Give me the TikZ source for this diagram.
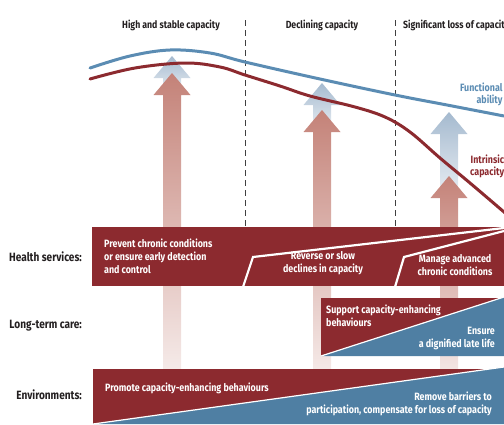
\documentclass[tikz,border=0pt]{standalone}
\usepackage{fontspec}
\newfontfamily\condfont{Fira Sans}[FakeStretch=0.84]
\definecolor{hsred}{RGB}{140,42,47}
\definecolor{ltblue}{RGB}{79,127,163}
\definecolor{curveblue}{RGB}{91,140,179}
\definecolor{arrowred}{RGB}{196,130,120}
\definecolor{arrowblue}{RGB}{165,186,207}
\definecolor{labelgray}{RGB}{35,31,32}
\tikzset{boxtext/.style={text=white,font=\condfont\bfseries\fontsize{10.6}{13}\selectfont,inner sep=0pt},
 headtext/.style={text=labelgray,font=\condfont\bfseries\fontsize{10.4}{12}\selectfont,inner sep=0pt},
 rowlabel/.style={text=labelgray,font=\condfont\bfseries\fontsize{12}{14}\selectfont,inner sep=0pt,anchor=east},
 curve/.style={line width=3pt,line cap=round},
 divider/.style={line width=0.7pt,dash pattern=on 6pt off 4pt,black!75},
 split/.style={white,line width=2.2pt}}

\begin{document}
\begin{tikzpicture}[x=1pt,y=-1pt]
 \useasboundingbox (0,0) rectangle (504,424);
 \clip (0,0) rectangle (504,424);
 % stages
 \node[headtext] (stage1) at (171,25) {High and stable capacity};
 \node[headtext] (stage2) at (322,25) {Declining capacity};
 \node[headtext,anchor=west] (stage3) at (403,25) {Significant loss of capacity};
 \foreach \x in {245,395}
  \draw[divider] (\x,20) -- (\x,226);
 % capacity arrows
 \foreach \x/\bt/\rt in {172/56/73,322/83/110,449/112/176}{
  \shade[top color=arrowblue,bottom color=arrowblue!25] (\x,\bt) -- ++(18.5,22) -- ++(-9.5,0)
   -- (\x+9,\rt+20) -- (\x-9,\rt+20) -- (\x-9,\bt+22) -- ++(-9.5,0) -- cycle;
  \shade[top color=arrowred,bottom color=arrowred!8] (\x,\rt) -- ++(18.5,22) -- ++(-9.5,0)
   -- (\x+9,400) -- (\x-9,400) -- (\x-9,\rt+22) -- ++(-9.5,0) -- cycle;
 }
 % trajectories
 \draw[curve,curveblue] plot[smooth,tension=0.6] coordinates {(90,68) (130,56) (170,50) (210,53) (245,62) (320,79) (395,95) (447,105) (504,116)};
 \draw[curve,hsred] plot[smooth,tension=0.6] coordinates {(90,79) (135,68) (185,63) (220,67) (245,75) (280,86) (310,96) (355,107) (385,117) (410,132) (440,158) (470,183) (504,212) (520,226)};
 \node[text=curveblue,font=\condfont\bfseries\fontsize{10.6}{12}\selectfont,align=right,anchor=west,inner sep=0pt] (fa) at (460,94) {Functional\\ability};
 \node[text=hsred,font=\condfont\bfseries\fontsize{10.6}{12}\selectfont,align=right,anchor=west,inner sep=0pt] (ic) at (470,166) {Intrinsic\\capacity};
 % health services
 \fill[hsred] (92,227) rectangle (504,286);
 \draw[split] (243,287) -- (253,257) -- (504,228);
 \draw[split] (395,287) -- (404,257) -- (504,231);
 \node[rowlabel] (hslbl) at (82,257) {Health services:};
 \node[boxtext,anchor=west,align=left] (hs1) at (104,256) {Prevent chronic conditions\\or ensure early detection\\and control};
 \node[boxtext,align=center] (hs2) at (323,263) {Reverse or slow\\declines in capacity};
 \node[boxtext,align=center] (hs3) at (455,265) {Manage advanced\\chronic conditions};
 % long-term care
 \fill[hsred] (321,298) -- (504,298) -- (321,356) -- cycle;
 \fill[ltblue] (321,356) -- (504,297) -- (504,356) -- cycle;
 \draw[white,line width=1.2pt] (321,356) -- (504,297);
 \node[rowlabel] (ltclbl) at (82,326) {Long-term care:};
 \node[boxtext,anchor=west,align=left] (ltc1) at (326,316) {Support capacity-enhancing\\behaviours};
 \node[boxtext,anchor=east,align=right] (ltc2) at (495,338) {Ensure\\a dignified late life};
 % environments
 \fill[hsred] (93,369) -- (504,369) -- (93,424) -- cycle;
 \fill[ltblue] (93,424) -- (504,367) -- (504,424) -- cycle;
 \draw[white,line width=1.2pt] (93,424) -- (504,367);
 \node[rowlabel] (envlbl) at (82,395) {Environments:};
 \node[boxtext,anchor=west] (env1) at (105,388) {Promote capacity-enhancing behaviours};
 \node[boxtext,anchor=east,align=right] (env2) at (492,404) {Remove barriers to\\participation, compensate for loss of capacity};
\end{tikzpicture}
\end{document}
